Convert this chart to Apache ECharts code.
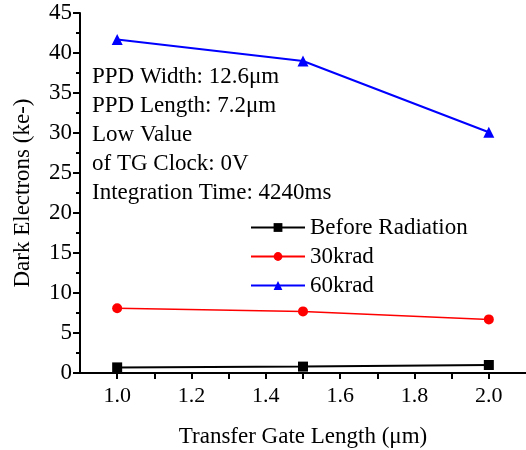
<!DOCTYPE html>
<html>
<head>
<meta charset="utf-8">
<script src="https://cdn.jsdelivr.net/npm/echarts@6/dist/echarts.min.js"></script>
<style>
  html, body { margin: 0; padding: 0; background: #fff; }
  #chartDiv { width: 526px; height: 450px; }
</style>
</head>
<body>
<div id="chartDiv"></div>
<script>
    // 数据
    var gateLength = [1.0, 1.5, 2.0];
    var beforeRadiation = [0.7, 0.8, 1.0];
    var krad30 = [8.1, 7.7, 6.7];
    var krad60 = [41.7, 39.0, 30.1];
    var yTicks = [0, 5, 10, 15, 20, 25, 30, 35, 40, 45];
    var xLabels = ['1.0', '1.2', '1.4', '1.6', '1.8', '2.0'];
    var noteLines = [
        'PPD Width: 12.6\u03bcm',
        'PPD Length: 7.2\u03bcm',
        'Low Value',
        'of TG Clock: 0V',
        'Integration Time: 4240ms'
    ];

    var font = '"Liberation Serif", "Times New Roman", serif';

    function pairs(ys) {
        return gateLength.map(function (x, i) { return [x, ys[i]]; });
    }

    var chart = echarts.init(document.getElementById('chartDiv'));
    chart.setOption({
        animation: false,
        textStyle: { fontFamily: font, color: '#000' },
        grid: { left: 80, right: 0, top: 13, bottom: 77, containLabel: false, outerBoundsMode: 'none' },
        xAxis: {
            type: 'value',
            min: 0.9,
            max: 2.1,
            interval: 0.1,
            name: 'Transfer Gate Length (\u03bcm)',
            nameLocation: 'middle',
            nameGap: 52,
            nameTextStyle: { fontFamily: font, fontSize: 23, color: '#000' },
            axisLine: { lineStyle: { color: '#000', width: 2 } },
            axisTick: { length: 6, lineStyle: { color: '#000', width: 2 } },
            splitLine: { show: false },
            axisLabel: {
                margin: 12,
                fontFamily: font,
                fontSize: 22,
                color: '#000',
                showMinLabel: false,
                showMaxLabel: false,
                formatter: function (v) {
                    var s = v.toFixed(1);
                    return xLabels.indexOf(s) >= 0 ? s : '';
                }
            }
        },
        yAxis: {
            type: 'value',
            min: yTicks[0],
            max: yTicks[yTicks.length - 1],
            interval: 5,
            name: 'Dark Electrons (ke-)',
            nameLocation: 'middle',
            nameGap: 46,
            nameTextStyle: { fontFamily: font, fontSize: 23, color: '#000' },
            axisLine: { show: true, lineStyle: { color: '#000', width: 2 } },
            axisTick: { show: true, length: 7, lineStyle: { color: '#000', width: 2 } },
            minorTick: { show: true, splitNumber: 2, length: 4, lineStyle: { color: '#000', width: 2 } },
            splitLine: { show: false },
            axisLabel: { margin: 8, fontFamily: font, fontSize: 23, color: '#000' }
        },
        legend: {
            orient: 'vertical',
            left: 250,
            top: 216,
            padding: 0,
            itemWidth: 54,
            itemHeight: 11,
            itemGap: 6,
            textStyle: { fontFamily: font, fontSize: 23, color: '#000', lineHeight: 23 },
            data: ['Before Radiation', '30krad', '60krad']
        },
        graphic: [{
            type: 'text',
            left: 92,
            top: 62,
            style: {
                text: noteLines.join('\n'),
                font: '23px ' + font,
                lineHeight: 29,
                fill: '#000'
            }
        }],
        series: [{
            name: 'Before Radiation',
            type: 'line',
            data: pairs(beforeRadiation),
            symbol: 'rect',
            symbolSize: 10,
            color: '#000',
            lineStyle: { width: 2, color: '#000' }
        }, {
            name: '30krad',
            type: 'line',
            data: pairs(krad30),
            symbol: 'circle',
            symbolSize: 10,
            color: '#ff0000',
            lineStyle: { width: 1.5, color: '#ff0000' }
        }, {
            name: '60krad',
            type: 'line',
            data: pairs(krad60),
            symbol: 'triangle',
            symbolSize: 11,
            color: '#0000ff',
            lineStyle: { width: 2, color: '#0000ff' }
        }]
    });
</script>
</body>
</html>
